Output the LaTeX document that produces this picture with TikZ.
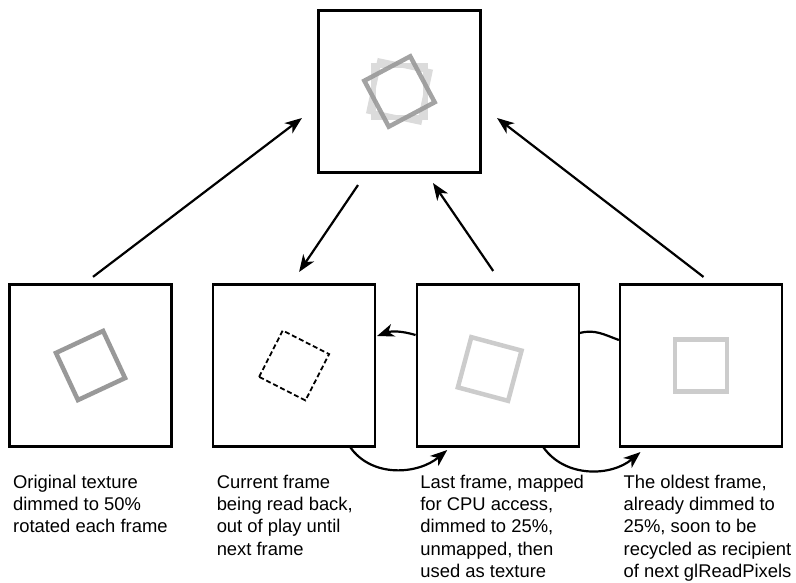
\documentclass[tikz,border=0pt]{standalone}
\usepackage{fontspec}
\setmainfont{Liberation Sans}
\usetikzlibrary{calc,positioning,arrows.meta}

\definecolor{half}{gray}{0.6}
\definecolor{quarter}{gray}{0.8}
\definecolor{faint}{gray}{0.86}

\begin{document}
\begin{tikzpicture}[x=1pt, y=1pt,
  frame/.style={draw, line width=2.3pt, minimum size=162pt, inner sep=0pt},
  flow/.style={line width=2.2pt, -{Stealth[length=17pt,width=13pt,inset=5pt]}},
  tex/.style={line width=4.5pt, line join=miter},
  caption/.style={align=left, inner sep=0pt, font=\fontsize{18.4}{22.4}\selectfont}]
  \useasboundingbox (0,0) rectangle (796,582);

  % frames
  \node[frame] (out) at (399.5,490.5) {};
  \node[frame] (f1) at (90.5,216.5) {};
  \node[frame, right=39.3pt of f1] (f2) {};
  \node[frame, right=39.3pt of f2] (f3) {};
  \node[frame, right=39pt of f3] (f4) {};

  % textures inside the frames
  \draw[tex, faint, shift={(out.center)}] (-26,-26) rectangle (26,26);
  \draw[tex, faint, shift={(out.center)}, rotate=-12] (-26,-26) rectangle (26,26);
  \draw[tex, half, opacity=0.9, shift={(out.center)}, rotate=28] (-26,-26) rectangle (26,26);
  \draw[tex, half, shift={(f1.center)}, rotate=25] (-26,-26) rectangle (26,26);
  \draw[line width=1.8pt, dash pattern=on 5pt off 2.8pt, shift={(f2.center)}, rotate=-27]
    (-26,-26) rectangle (26,26);
  \draw[tex, quarter, shift={($(f3.center)+(-8,-3.5)$)}, rotate=-15] (-26,-26) rectangle (26,26);
  \draw[tex, quarter, shift={(f4.center)}] (-26,-26) rectangle (26,26);

  % straight arrows to and from the output
  \draw[flow] ($(f1.north)+(2.5,6.5)$) -- ($(out.west)+(-15.4,-26.5)$);
  \draw[flow] ($(out.south)+(-41.5,-11.4)$) -- ($(f2.north)+(5,11.4)$);
  \draw[flow] ($(f3.north)+(-4.5,12.4)$) -- ($(out.south)+(33.5,-9.4)$);
  \draw[flow] ($(f4.north)+(2.5,6.4)$) -- ($(out.east)+(15.4,-26.5)$);

  % curved links between frames
  \draw[flow] ($(f3.west)+(0,30.5)$) to[bend right=18] ($(f2.east)+(0.8,29.5)$);
  \draw[line width=2.2pt] ($(f3.east)+(0,32.5)$) to[out=15, in=160] ($(f4.west)+(0,25.5)$);
  \draw[flow] ($(f2.south)+(56,0.6)$) to[out=-55, in=-140] ($(f3.south)+(-50.5,-2.4)$);
  \draw[flow] ($(f3.south)+(45.5,0.6)$) to[out=-55, in=-140] ($(f4.south)+(-60.5,-4.4)$);

  % captions
  \node[caption, below right=27pt and 4.6pt of f1.south west] (c1)
    {Original texture\\dimmed to 50\%\\rotated each frame};
  \node[caption, below right=27pt and 4.6pt of f2.south west] (c2)
    {Current frame\\being read back,\\out of play until\\next frame};
  \node[caption, below right=27pt and 4.6pt of f3.south west] (c3)
    {Last frame, mapped\\for CPU access,\\dimmed to 25\%,\\unmapped, then\\used as texture};
  \node[caption, below right=27pt and 4.6pt of f4.south west] (c4)
    {The oldest frame,\\already dimmed to\\25\%, soon to be\\recycled as recipient\\of next glReadPixels};
\end{tikzpicture}
\end{document}
